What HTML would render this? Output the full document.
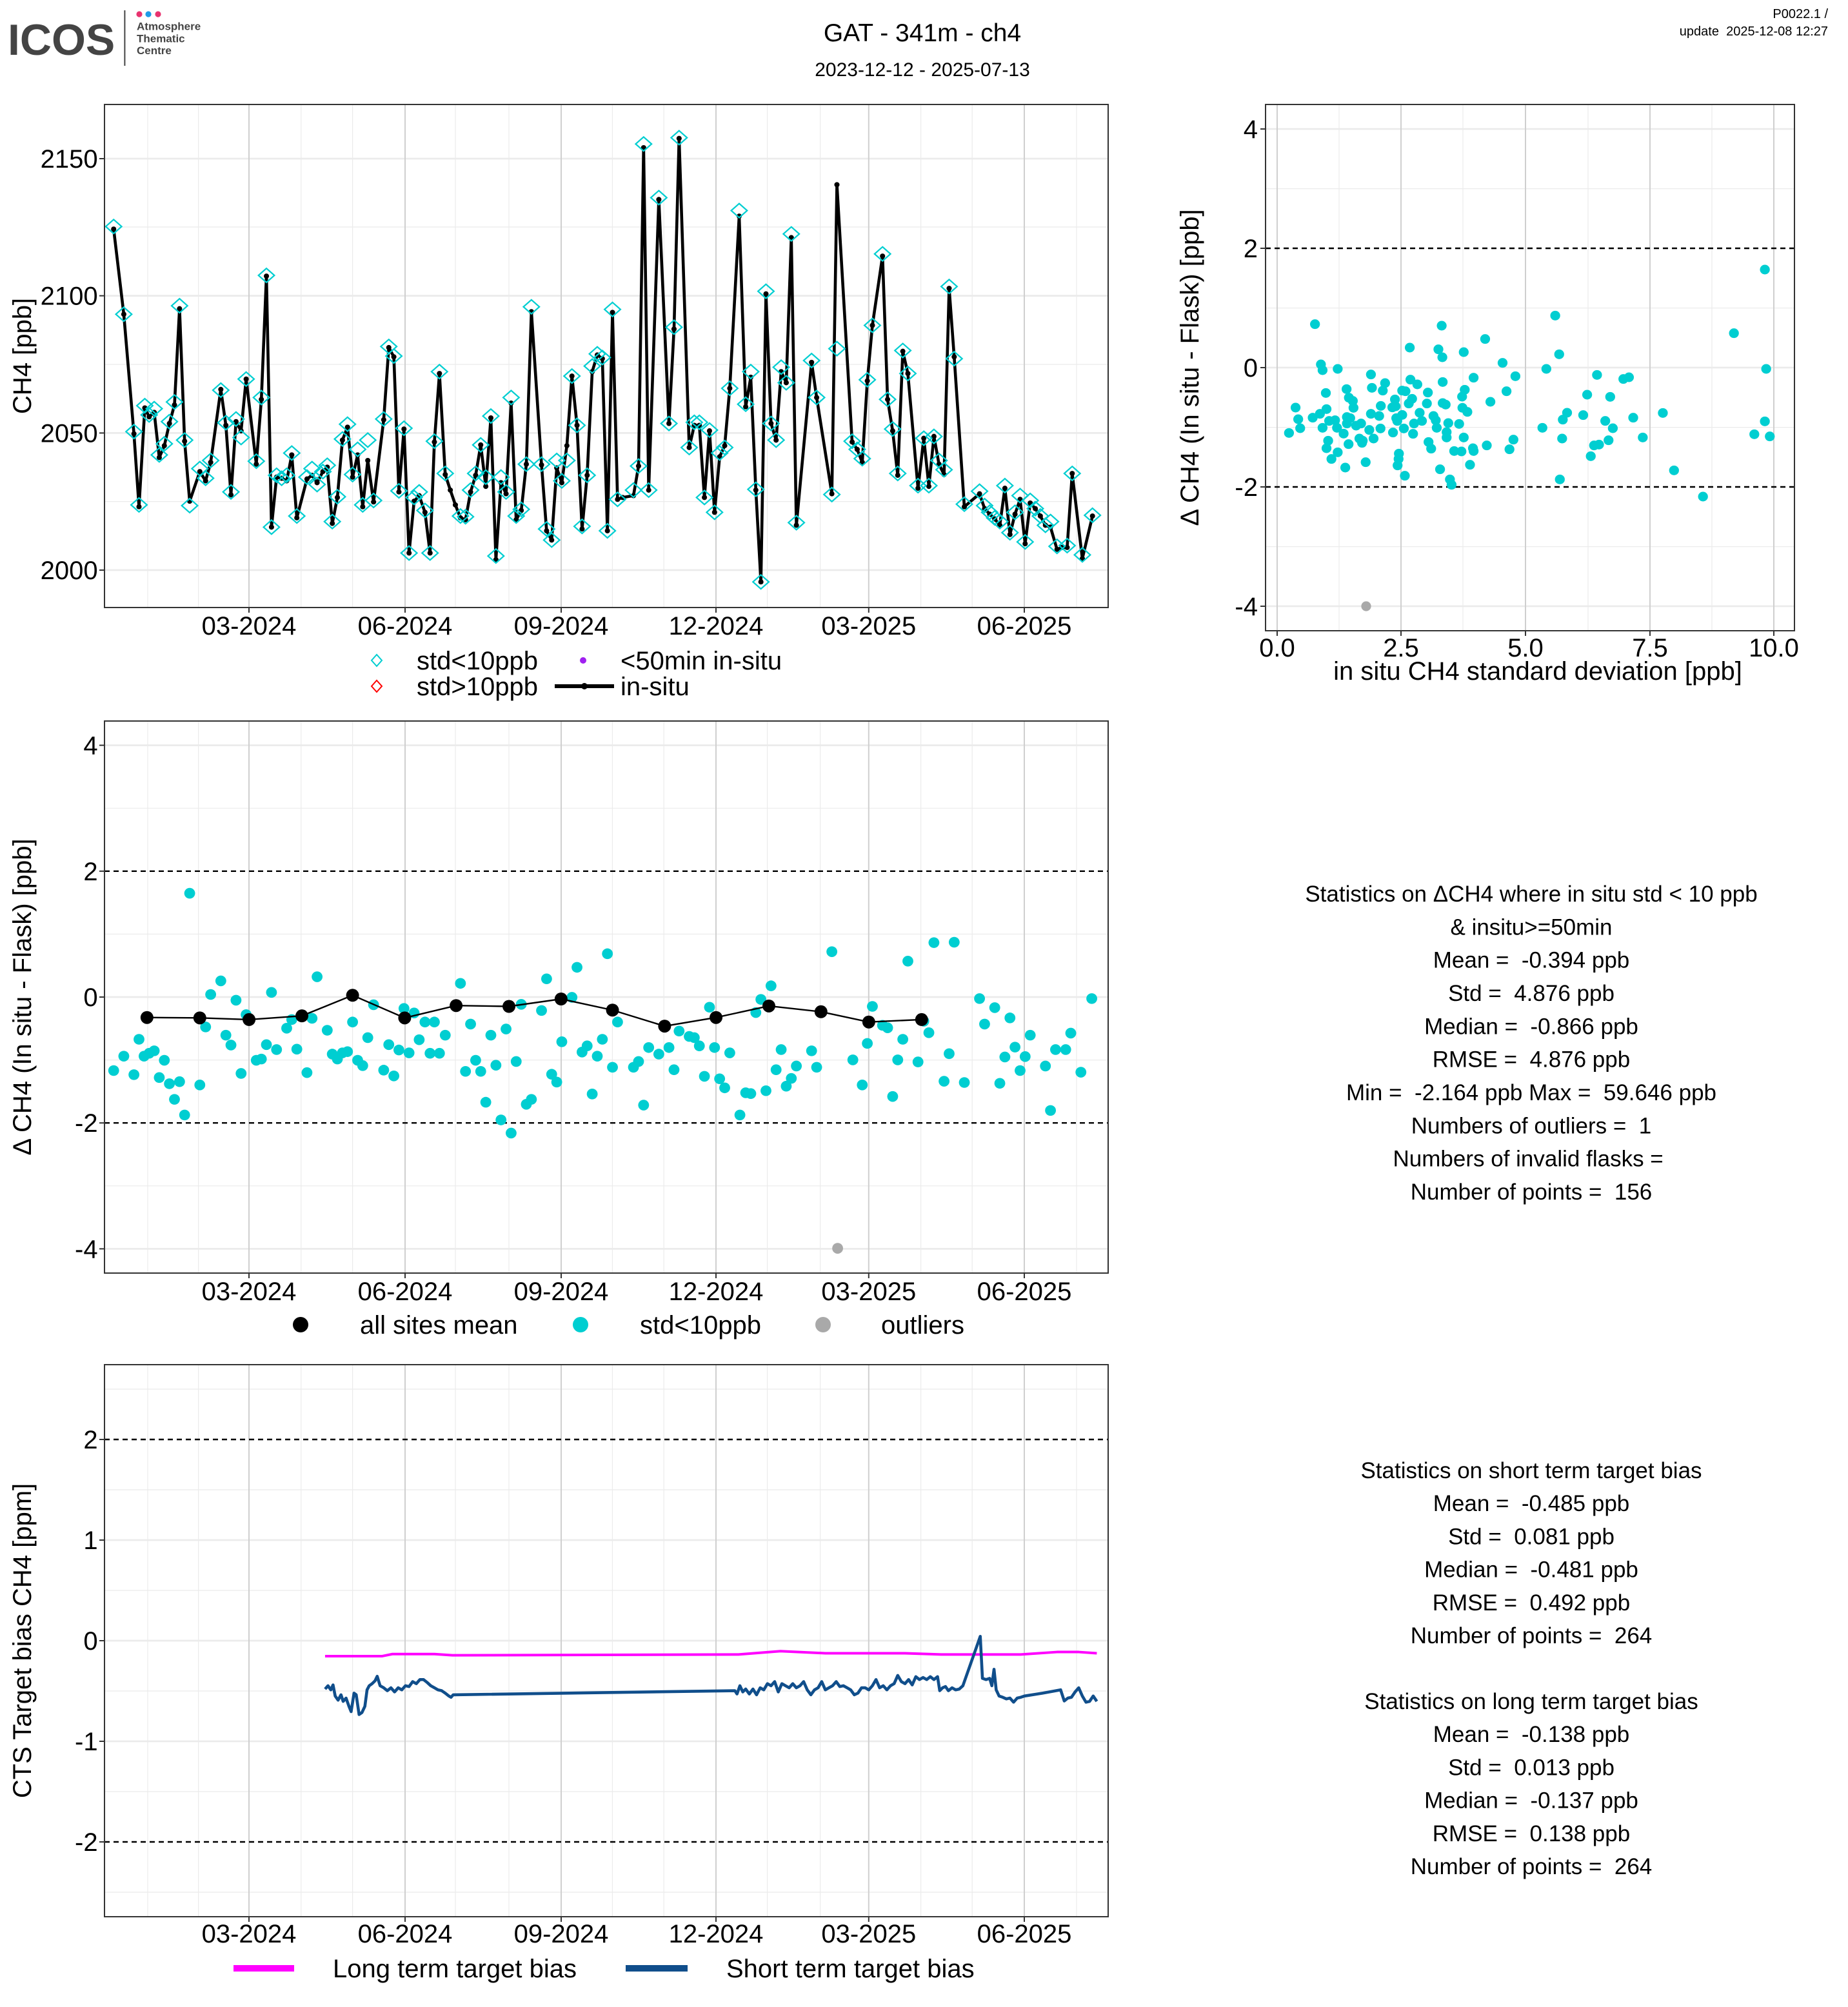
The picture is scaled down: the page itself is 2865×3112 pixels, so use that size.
<!DOCTYPE html>
<html><head><meta charset="utf-8"><style>
html,body{margin:0;padding:0;background:#fff}
svg{display:block}
text{font-family:"Liberation Sans",Arial,sans-serif;fill:#000;white-space:pre}
</style></head><body>
<svg xmlns="http://www.w3.org/2000/svg" width="2865" height="3112" viewBox="0 0 1432.5 1556" xml:space="preserve">
<defs>
<marker id="dia" markerUnits="userSpaceOnUse" markerWidth="60" markerHeight="60" refX="0" refY="0" overflow="visible"><path d="M0,-19L11,0L0,19L-11,0Z" fill="none" stroke="#00CED1" stroke-width="2.6"/></marker>
<marker id="dot1" markerUnits="userSpaceOnUse" markerWidth="20" markerHeight="20" refX="0" refY="0" overflow="visible"><ellipse cx="0" cy="0" rx="3.6" ry="7" fill="#000"/></marker>
<marker id="cy2" markerUnits="userSpaceOnUse" markerWidth="60" markerHeight="60" refX="0" refY="0" overflow="visible"><ellipse cx="0" cy="0" rx="15" ry="22.5" fill="#00CED1"/></marker>
<marker id="cy3" markerUnits="userSpaceOnUse" markerWidth="60" markerHeight="60" refX="0" refY="0" overflow="visible"><ellipse cx="0" cy="0" rx="7.5" ry="13" fill="#00CED1"/></marker>
<marker id="bk3" markerUnits="userSpaceOnUse" markerWidth="60" markerHeight="60" refX="0" refY="0" overflow="visible"><ellipse cx="0" cy="0" rx="8.9" ry="15.7" fill="#000"/></marker>
</defs>
<rect width="1432.5" height="1556" fill="#fff"/>

<!-- HEADER -->
<text x="6" y="42.5" font-size="34" font-weight="bold" style="fill:#444">ICOS</text>
<line x1="96.7" y1="8" x2="96.7" y2="51" stroke="#444" stroke-width="1"/>
<circle cx="108" cy="11" r="2.3" fill="#e8336f"/><circle cx="115" cy="11" r="2.3" fill="#1e9be8"/><circle cx="122.5" cy="11" r="2.3" fill="#e8336f"/>
<text x="106" y="23.3" font-size="8.5" font-weight="bold" style="fill:#444">Atmosphere</text>
<text x="106" y="32.8" font-size="8.5" font-weight="bold" style="fill:#444">Thematic</text>
<text x="106" y="42" font-size="8.5" font-weight="bold" style="fill:#444">Centre</text>
<text x="715" y="32" font-size="19.5" text-anchor="middle">GAT - 341m - ch4</text>
<text x="715" y="59" font-size="15" text-anchor="middle">2023-12-12 - 2025-07-13</text>
<text x="1417" y="14" font-size="10" text-anchor="end">P0022.1 /</text>
<text x="1417" y="27.5" font-size="10" text-anchor="end">update  2025-12-08 12:27</text>

<!-- PANEL 1 -->
<g stroke="#ebebeb" stroke-width="0.6">
<line x1="114.5" y1="81" x2="114.5" y2="471"/><line x1="153.8" y1="81" x2="153.8" y2="471"/><line x1="233.4" y1="81" x2="233.4" y2="471"/><line x1="273.3" y1="81" x2="273.3" y2="471"/><line x1="353" y1="81" x2="353" y2="471"/><line x1="394.5" y1="81" x2="394.5" y2="471"/><line x1="474.7" y1="81" x2="474.7" y2="471"/><line x1="514.6" y1="81" x2="514.6" y2="471"/><line x1="594.8" y1="81" x2="594.8" y2="471"/><line x1="635.8" y1="81" x2="635.8" y2="471"/><line x1="713.8" y1="81" x2="713.8" y2="471"/><line x1="753.6" y1="81" x2="753.6" y2="471"/><line x1="834.5" y1="81" x2="834.5" y2="471"/>
<line x1="81" y1="388.8" x2="859" y2="388.8"/><line x1="81" y1="282.5" x2="859" y2="282.5"/><line x1="81" y1="176" x2="859" y2="176"/>
</g>
<g stroke="#ebebeb" stroke-width="1.4">
<line x1="81" y1="442" x2="859" y2="442"/><line x1="81" y1="335.7" x2="859" y2="335.7"/><line x1="81" y1="229.3" x2="859" y2="229.3"/><line x1="81" y1="123" x2="859" y2="123"/>
</g>
<g stroke="#cfcfcf" stroke-width="1">
<line x1="193" y1="81" x2="193" y2="471"/><line x1="314" y1="81" x2="314" y2="471"/><line x1="435" y1="81" x2="435" y2="471"/><line x1="555" y1="81" x2="555" y2="471"/><line x1="673.4" y1="81" x2="673.4" y2="471"/><line x1="794" y1="81" x2="794" y2="471"/>
</g>
<g transform="translate(0,70) scale(0.5612,0.2870)">
<polyline fill="none" stroke="#000" stroke-width="4.6" vector-effect="non-scaling-stroke" stroke-linejoin="round" marker-start="url(#dot1)" marker-mid="url(#dot1)" marker-end="url(#dot1)" points="157,375 171,605 185,928 192,1125 200,858 206,882 213,870 220,992 227,960 234,900 241,850 248,590 255,948 262,1110 276,1030 284,1055 291,1005 305,808 312,905 319,1093 326,895 333,920 340,780 354,1010 361,835 368,502 375,1180 382,1045 389,1048 396,1055 403,985 410,1155 424,1050 431,1040 438,1060 446,1030 452,1018 459,1170 466,1100 473,945 480,910 487,1045 494,985 501,1125 508,1000 516,1112 530,890 537,695 544,720 551,1085 558,915 565,1250 572,1110 579,1095 587,1140 594,1250 600,950 607,765 615,1038 622,1080 629,1120 636,1155 643,1160 650,1085 657,1040 664,958 671,1070 678,885 685,1268 692,1060 699,1090 706,845 713,1160 720,1135 727,1010 734,598 748,1012 755,1190 762,1215 769,1020 776,1060 783,960 790,772 797,905 804,1185 811,1040 818,760 825,715 832,725 839,1190 846,600 853,1105 860,1100 875,1095 882,1015 889,155 896,1080 910,295 924,900 931,645 938,130 952,965 959,905 966,905 973,1100 980,920 987,1140 994,990 1001,960 1008,805 1021,340 1030,855 1037,775 1044,1080 1051,1328 1058,550 1065,900 1072,945 1079,760 1086,790 1093,398 1100,1175 1121,735 1128,830 1149,1090 1156,255 1177,950 1184,970 1191,1005 1198,785 1205,635 1219,448 1226,835 1233,920 1240,1040 1247,705 1254,765 1268,1075 1276,940 1283,1070 1290,935 1297,1010 1304,1038 1311,535 1318,720 1332,1125 1353,1090 1360,1130 1367,1145 1374,1158 1381,1175 1388,1075 1395,1200 1402,1145 1409,1105 1416,1225 1423,1115 1430,1130 1437,1150 1444,1175 1451,1180 1460,1240 1467,1235 1474,1235 1481,1035 1495,1265 1509,1150"/>
<polyline fill="none" stroke="none" marker-start="url(#dia)" marker-mid="url(#dia)" marker-end="url(#dia)" points="157,368 171,605 185,922 192,1120 200,852 206,877 213,860 220,985 227,955 234,895 241,842 248,582 255,945 262,1122 276,1022 284,1048 291,1000 305,810 312,898 319,1085 326,888 333,938 340,780 354,1002 361,830 368,500 375,1180 382,1040 389,1048 396,1040 403,980 410,1150 424,1045 431,1022 438,1065 446,1030 452,1013 459,1165 466,1098 473,942 480,902 487,1038 494,970 501,1120 508,945 516,1108 530,888 537,692 544,718 551,1082 558,913 565,1250 572,1100 579,1085 587,1135 594,1250 600,948 607,760 615,1035 636,1150 643,1152 650,1080 657,1035 664,958 671,1045 678,880 685,1258 692,1045 699,1085 706,830 713,1150 720,1132 727,1010 734,585 748,1010 755,1185 762,1215 769,1000 776,1055 783,1000 790,772 797,905 804,1178 811,1040 818,745 825,712 832,722 839,1190 846,592 853,1105 875,1080 882,1015 889,145 896,1080 910,290 924,900 931,640 938,128 952,965 959,897 966,897 973,1100 980,918 987,1140 994,980 1001,965 1008,805 1021,325 1030,848 1037,760 1044,1078 1051,1328 1058,543 1065,900 1072,945 1079,748 1086,790 1093,388 1100,1168 1121,730 1128,830 1149,1092 1156,698 1177,948 1184,970 1191,995 1198,782 1205,635 1219,442 1226,835 1233,915 1240,1035 1247,703 1254,765 1268,1068 1276,940 1283,1068 1290,935 1297,1000 1304,1025 1311,530 1318,725 1332,1118 1353,1083 1360,1122 1367,1140 1374,1155 1381,1165 1388,1068 1395,1195 1402,1140 1409,1095 1416,1220 1423,1108 1430,1130 1437,1150 1444,1175 1451,1165 1460,1232 1474,1230 1481,1035 1495,1255 1509,1148"/>
</g>
<rect x="81" y="81" width="778" height="390" fill="none" stroke="#333" stroke-width="1"/>
<g stroke="#333" stroke-width="1">
<line x1="77" y1="442" x2="81" y2="442"/><line x1="77" y1="335.7" x2="81" y2="335.7"/><line x1="77" y1="229.3" x2="81" y2="229.3"/><line x1="77" y1="123" x2="81" y2="123"/>
<line x1="193" y1="471" x2="193" y2="475"/><line x1="314" y1="471" x2="314" y2="475"/><line x1="435" y1="471" x2="435" y2="475"/><line x1="555" y1="471" x2="555" y2="475"/><line x1="673.4" y1="471" x2="673.4" y2="475"/><line x1="794" y1="471" x2="794" y2="475"/>
</g>
<g font-size="20" text-anchor="end">
<text x="75.8" y="449">2000</text><text x="75.8" y="342.7">2050</text><text x="75.8" y="236.3">2100</text><text x="75.8" y="130">2150</text>
</g>
<g font-size="20" text-anchor="middle">
<text x="193" y="492">03-2024</text><text x="314" y="492">06-2024</text><text x="435" y="492">09-2024</text><text x="555" y="492">12-2024</text><text x="673.4" y="492">03-2025</text><text x="794" y="492">06-2025</text>
</g>
<text transform="translate(24,276) rotate(-90)" font-size="20" text-anchor="middle">CH4 [ppb]</text>
<!-- legend 1 -->
<path d="M292,507.5L296,512L292,516.5L288,512Z" fill="none" stroke="#00CED1" stroke-width="1"/>
<text x="323" y="519" font-size="20">std&lt;10ppb</text>
<circle cx="452" cy="512" r="2.5" fill="#A020F0"/>
<text x="481" y="519" font-size="20">&lt;50min in-situ</text>
<path d="M292,527.5L296,532L292,536.5L288,532Z" fill="none" stroke="#FF0000" stroke-width="1"/>
<text x="323" y="539" font-size="20">std&gt;10ppb</text>
<line x1="430" y1="532" x2="476" y2="532" stroke="#000" stroke-width="3"/><circle cx="453" cy="532" r="2.5" fill="#000"/>
<text x="481" y="539" font-size="20">in-situ</text>

<!-- PANEL 2 -->
<g stroke="#ebebeb" stroke-width="0.6">
<line x1="1038" y1="81" x2="1038" y2="489"/><line x1="1134" y1="81" x2="1134" y2="489"/><line x1="1231" y1="81" x2="1231" y2="489"/><line x1="1327" y1="81" x2="1327" y2="489"/>
<line x1="981" y1="238.8" x2="1391" y2="238.8"/><line x1="981" y1="331.3" x2="1391" y2="331.3"/><line x1="981" y1="146.3" x2="1391" y2="146.3"/><line x1="981" y1="423.8" x2="1391" y2="423.8"/>
</g>
<g stroke="#ebebeb" stroke-width="1.4">
<line x1="981" y1="285" x2="1391" y2="285"/><line x1="981" y1="100" x2="1391" y2="100"/><line x1="981" y1="470" x2="1391" y2="470"/>
</g>
<g stroke="#cfcfcf" stroke-width="1">
<line x1="990" y1="81" x2="990" y2="489"/><line x1="1086" y1="81" x2="1086" y2="489"/><line x1="1182.5" y1="81" x2="1182.5" y2="489"/><line x1="1279" y1="81" x2="1279" y2="489"/><line x1="1375" y1="81" x2="1375" y2="489"/>
</g>
<g stroke="#000" stroke-width="1.2" stroke-dasharray="4,3"><line x1="981" y1="192.5" x2="1391" y2="192.5"/><line x1="981" y1="377.5" x2="1391" y2="377.5"/></g>
<g transform="translate(990,230) scale(0.2551,0.16667)">
<polyline fill="none" stroke="none" marker-start="url(#cy2)" marker-mid="url(#cy2)" marker-end="url(#cy2)" points="115,128 500,135 845,88 1388,170 403,237 490,245 502,282 567,258 632,197 857,268 133,315 138,342 184,336 685,308 818,336 1486,336 285,362 405,386 426,408 503,397 597,377 724,370 972,364 1052,383 1069,375 148,448 211,430 288,424 328,402 321,437 380,437 390,440 458,446 570,433 562,465 697,440 942,456 1012,466 218,470 230,485 232,517 358,478 350,515 360,510 410,475 400,497 455,497 503,495 512,502 648,489 563,517 578,536 56,516 150,523 130,545 108,563 64,570 70,612 36,634 285,545 310,555 315,508 380,550 362,565 365,578 433,540 440,578 416,590 475,555 482,575 485,610 520,588 553,592 881,540 868,572 930,551 997,578 1020,612 1082,563 1172,541 1482,580 806,610 158,578 176,575 212,560 222,565 212,590 240,600 255,590 280,620 138,610 182,610 202,637 314,613 352,632 385,613 413,638 515,630 515,655 567,655 718,665 866,660 1007,668 978,688 963,692 1111,655 1450,640 1497,650 155,670 150,705 217,686 260,670 258,680 293,660 250,660 460,676 468,707 538,718 560,720 595,705 597,718 637,692 706,710 184,724 165,755 207,795 269,770 370,730 369,755 366,785 388,833 495,803 525,850 530,875 586,782 953,742 859,850 1206,808 1294,930 1482,-126"/>
</g>
<circle cx="1059" cy="470" r="3.8" fill="#A9A9A9"/>
<rect x="981" y="81" width="410" height="408" fill="none" stroke="#333" stroke-width="1"/>
<g stroke="#333" stroke-width="1">
<line x1="977" y1="100" x2="981" y2="100"/><line x1="977" y1="192.5" x2="981" y2="192.5"/><line x1="977" y1="285" x2="981" y2="285"/><line x1="977" y1="377.5" x2="981" y2="377.5"/><line x1="977" y1="470" x2="981" y2="470"/>
<line x1="990" y1="489" x2="990" y2="493"/><line x1="1086" y1="489" x2="1086" y2="493"/><line x1="1182.5" y1="489" x2="1182.5" y2="493"/><line x1="1279" y1="489" x2="1279" y2="493"/><line x1="1375" y1="489" x2="1375" y2="493"/>
</g>
<g font-size="20" text-anchor="end">
<text x="975" y="107">4</text><text x="975" y="199.5">2</text><text x="975" y="292">0</text><text x="975" y="384.5">-2</text><text x="975" y="477">-4</text>
</g>
<g font-size="20" text-anchor="middle">
<text x="990" y="509">0.0</text><text x="1086" y="509">2.5</text><text x="1182.5" y="509">5.0</text><text x="1279" y="509">7.5</text><text x="1375" y="509">10.0</text>
</g>
<text x="1192" y="527" font-size="20" text-anchor="middle">in situ CH4 standard deviation [ppb]</text>
<text transform="translate(929,285) rotate(-90)" font-size="20" text-anchor="middle">Δ CH4 (In situ - Flask) [ppb]</text>

<!-- PANEL 3 -->
<g stroke="#ebebeb" stroke-width="0.6">
<line x1="114.5" y1="559" x2="114.5" y2="987"/><line x1="153.8" y1="559" x2="153.8" y2="987"/><line x1="233.4" y1="559" x2="233.4" y2="987"/><line x1="273.3" y1="559" x2="273.3" y2="987"/><line x1="353" y1="559" x2="353" y2="987"/><line x1="394.5" y1="559" x2="394.5" y2="987"/><line x1="474.7" y1="559" x2="474.7" y2="987"/><line x1="514.6" y1="559" x2="514.6" y2="987"/><line x1="594.8" y1="559" x2="594.8" y2="987"/><line x1="635.8" y1="559" x2="635.8" y2="987"/><line x1="713.8" y1="559" x2="713.8" y2="987"/><line x1="753.6" y1="559" x2="753.6" y2="987"/><line x1="834.5" y1="559" x2="834.5" y2="987"/>
<line x1="81" y1="626.6" x2="859" y2="626.6"/><line x1="81" y1="724.2" x2="859" y2="724.2"/><line x1="81" y1="821.8" x2="859" y2="821.8"/><line x1="81" y1="919.4" x2="859" y2="919.4"/>
</g>
<g stroke="#ebebeb" stroke-width="1.4">
<line x1="81" y1="577.8" x2="859" y2="577.8"/><line x1="81" y1="773" x2="859" y2="773"/><line x1="81" y1="968.2" x2="859" y2="968.2"/>
</g>
<g stroke="#cfcfcf" stroke-width="1">
<line x1="193" y1="559" x2="193" y2="987"/><line x1="314" y1="559" x2="314" y2="987"/><line x1="435" y1="559" x2="435" y2="987"/><line x1="555" y1="559" x2="555" y2="987"/><line x1="673.4" y1="559" x2="673.4" y2="987"/><line x1="794" y1="559" x2="794" y2="987"/>
</g>
<g stroke="#000" stroke-width="1.2" stroke-dasharray="4,3"><line x1="81" y1="675.4" x2="859" y2="675.4"/><line x1="81" y1="870.6" x2="859" y2="870.6"/></g>
<g transform="translate(0,550) scale(0.5612,0.3189)">
<polyline fill="none" stroke="none" marker-start="url(#cy3)" marker-mid="url(#cy3)" marker-end="url(#cy3)" points="157,878 171,843 185,888 192,802 199,843 206,836 213,830 220,895 227,853 234,910 241,948 248,905 255,986 262,447 276,913 284,772 291,693 305,660 312,792 319,816 326,707 333,885 340,742 354,853 361,850 368,815 375,688 382,827 396,775 403,754 410,826 424,883 431,751 438,650 452,780 459,838 466,850 473,835 480,832 487,760 494,853 501,866 508,798 516,718 530,877 537,815 544,891 551,828 558,727 565,835 572,738 579,803 587,760 594,836 600,760 607,836 615,792 636,666 643,880 650,765 657,853 664,880 671,955 678,792 685,865 692,998 699,777 706,1030 713,856 720,717 727,960 734,948 748,732 755,655 762,887 769,906 776,808 790,700 797,627 804,833 811,818 818,935 825,843 832,802 839,594 846,870 853,760 875,870 882,856 889,962 896,822 910,838 924,822 931,876 938,782 952,795 959,798 966,818 973,892 980,724 987,822 994,898 1001,920 1008,835 1022,986 1030,932 1037,934 1044,737 1051,705 1058,927 1065,672 1072,876 1079,827 1086,916 1093,897 1100,867 1121,830 1128,870 1149,589 1178,852 1191,913 1198,812 1205,722 1219,768 1226,774 1233,941 1240,852 1247,802 1254,612 1268,857 1276,758 1283,786 1290,567 1304,904 1311,837 1318,566 1332,907 1353,703 1360,765 1374,725 1381,909 1388,845 1395,750 1402,821 1409,878 1416,844 1423,792 1444,867 1451,975 1458,827 1472,827 1479,787 1493,882 1508,703"/>
<polyline fill="none" stroke="#000" stroke-width="2.4" vector-effect="non-scaling-stroke" marker-start="url(#bk3)" marker-mid="url(#bk3)" marker-end="url(#bk3)" points="203,749 276,750 344,754 417,745 487,695 559,750 630,720 703,722 775,704 846,731 918,770 989,749 1062,721 1134,735 1200,760 1273,754"/>
</g>
<circle cx="649.3" cy="967.8" r="4.2" fill="#A9A9A9"/>
<rect x="81" y="559" width="778" height="428" fill="none" stroke="#333" stroke-width="1"/>
<g stroke="#333" stroke-width="1">
<line x1="77" y1="577.8" x2="81" y2="577.8"/><line x1="77" y1="675.4" x2="81" y2="675.4"/><line x1="77" y1="773" x2="81" y2="773"/><line x1="77" y1="870.6" x2="81" y2="870.6"/><line x1="77" y1="968.2" x2="81" y2="968.2"/>
<line x1="193" y1="987" x2="193" y2="991"/><line x1="314" y1="987" x2="314" y2="991"/><line x1="435" y1="987" x2="435" y2="991"/><line x1="555" y1="987" x2="555" y2="991"/><line x1="673.4" y1="987" x2="673.4" y2="991"/><line x1="794" y1="987" x2="794" y2="991"/>
</g>
<g font-size="20" text-anchor="end">
<text x="75.8" y="584.8">4</text><text x="75.8" y="682.4">2</text><text x="75.8" y="780">0</text><text x="75.8" y="877.6">-2</text><text x="75.8" y="975.2">-4</text>
</g>
<g font-size="20" text-anchor="middle">
<text x="193" y="1008">03-2024</text><text x="314" y="1008">06-2024</text><text x="435" y="1008">09-2024</text><text x="555" y="1008">12-2024</text><text x="673.4" y="1008">03-2025</text><text x="794" y="1008">06-2025</text>
</g>
<text transform="translate(24,773) rotate(-90)" font-size="20" text-anchor="middle">Δ CH4 (In situ - Flask) [ppb]</text>
<circle cx="233" cy="1027" r="6" fill="#000"/><text x="279" y="1034" font-size="20">all sites mean</text>
<circle cx="450" cy="1027" r="6" fill="#00CED1"/><text x="496" y="1034" font-size="20">std&lt;10ppb</text>
<circle cx="638" cy="1027" r="6" fill="#A9A9A9"/><text x="683" y="1034" font-size="20">outliers</text>

<!-- STATS 1 -->
<g font-size="17.5" text-anchor="middle">
<text x="1187" y="699">Statistics on ΔCH4 where in situ std &lt; 10 ppb</text>
<text x="1187" y="724.7">&amp; insitu&gt;=50min</text>
<text x="1187" y="750.3">Mean =  -0.394 ppb</text>
<text x="1187" y="776">Std =  4.876 ppb</text>
<text x="1187" y="801.7">Median =  -0.866 ppb</text>
<text x="1187" y="827.3">RMSE =  4.876 ppb</text>
<text x="1187" y="853">Min =  -2.164 ppb Max =  59.646 ppb</text>
<text x="1187" y="878.7">Numbers of outliers =  1</text>
<text x="1187" y="904.3">Numbers of invalid flasks = </text>
<text x="1187" y="930">Number of points =  156</text>
</g>

<!-- PANEL 4 -->
<g stroke="#ebebeb" stroke-width="0.6">
<line x1="114.5" y1="1058" x2="114.5" y2="1486"/><line x1="153.8" y1="1058" x2="153.8" y2="1486"/><line x1="233.4" y1="1058" x2="233.4" y2="1486"/><line x1="273.3" y1="1058" x2="273.3" y2="1486"/><line x1="353" y1="1058" x2="353" y2="1486"/><line x1="394.5" y1="1058" x2="394.5" y2="1486"/><line x1="474.7" y1="1058" x2="474.7" y2="1486"/><line x1="514.6" y1="1058" x2="514.6" y2="1486"/><line x1="594.8" y1="1058" x2="594.8" y2="1486"/><line x1="635.8" y1="1058" x2="635.8" y2="1486"/><line x1="713.8" y1="1058" x2="713.8" y2="1486"/><line x1="753.6" y1="1058" x2="753.6" y2="1486"/><line x1="834.5" y1="1058" x2="834.5" y2="1486"/>
<line x1="81" y1="1077" x2="859" y2="1077"/><line x1="81" y1="1155" x2="859" y2="1155"/><line x1="81" y1="1233" x2="859" y2="1233"/><line x1="81" y1="1311" x2="859" y2="1311"/><line x1="81" y1="1389" x2="859" y2="1389"/><line x1="81" y1="1467" x2="859" y2="1467"/>
</g>
<g stroke="#ebebeb" stroke-width="1.4">
<line x1="81" y1="1194" x2="859" y2="1194"/><line x1="81" y1="1272" x2="859" y2="1272"/><line x1="81" y1="1350" x2="859" y2="1350"/>
</g>
<g stroke="#cfcfcf" stroke-width="1">
<line x1="193" y1="1058" x2="193" y2="1486"/><line x1="314" y1="1058" x2="314" y2="1486"/><line x1="435" y1="1058" x2="435" y2="1486"/><line x1="555" y1="1058" x2="555" y2="1486"/><line x1="673.4" y1="1058" x2="673.4" y2="1486"/><line x1="794" y1="1058" x2="794" y2="1486"/>
</g>
<g stroke="#000" stroke-width="1.2" stroke-dasharray="4,3"><line x1="81" y1="1116" x2="859" y2="1116"/><line x1="81" y1="1428" x2="859" y2="1428"/></g>
<g transform="translate(0,1055) scale(0.5612,0.3189)" fill="none" stroke-linejoin="round">
<polyline stroke="#FF00FF" stroke-width="4" vector-effect="non-scaling-stroke" points="449,718 528,718 542,713 600,713 625,716 1020,714 1078,706 1140,711 1250,711 1300,714 1410,714 1460,708 1490,708 1515,711"/>
<polyline stroke="#104E8B" stroke-width="4.6" vector-effect="non-scaling-stroke" points="449,798 453,790 457,800 460,788 463,815 467,825 471,812 474,828 478,820 482,840 485,853 489,808 492,812 496,860 500,855 504,840 507,800 510,790 514,785 518,778 521,767 525,790 530,795 535,802 540,795 545,805 550,795 555,800 560,790 565,792 570,780 575,785 580,775 585,775 590,782 595,790 600,795 605,800 610,802 615,808 620,815 623,818 626,812 1015,802 1018,810 1022,790 1026,805 1030,798 1035,810 1040,798 1045,812 1050,795 1055,800 1060,785 1065,790 1070,780 1075,805 1080,785 1085,790 1090,795 1095,785 1100,795 1105,790 1110,780 1115,800 1120,812 1125,800 1130,795 1135,780 1140,800 1145,795 1150,790 1155,780 1160,792 1165,790 1170,795 1175,800 1180,812 1185,808 1190,795 1195,795 1200,800 1205,790 1210,775 1215,795 1220,790 1225,800 1230,790 1235,785 1240,765 1245,780 1250,785 1255,775 1260,788 1265,768 1270,775 1275,770 1280,775 1285,768 1290,775 1295,768 1298,802 1302,795 1306,792 1310,802 1315,795 1320,800 1325,798 1330,790 1340,740 1350,690 1354,670 1357,772 1362,775 1367,772 1370,790 1373,750 1376,800 1380,815 1385,818 1390,822 1395,820 1400,830 1405,820 1410,818 1415,815 1440,808 1465,800 1470,827 1475,820 1480,818 1485,805 1490,795 1495,815 1500,830 1505,828 1510,815 1515,828"/>
</g>
<rect x="81" y="1058" width="778" height="428" fill="none" stroke="#333" stroke-width="1"/>
<g stroke="#333" stroke-width="1">
<line x1="77" y1="1116" x2="81" y2="1116"/><line x1="77" y1="1194" x2="81" y2="1194"/><line x1="77" y1="1272" x2="81" y2="1272"/><line x1="77" y1="1350" x2="81" y2="1350"/><line x1="77" y1="1428" x2="81" y2="1428"/>
<line x1="193" y1="1486" x2="193" y2="1490"/><line x1="314" y1="1486" x2="314" y2="1490"/><line x1="435" y1="1486" x2="435" y2="1490"/><line x1="555" y1="1486" x2="555" y2="1490"/><line x1="673.4" y1="1486" x2="673.4" y2="1490"/><line x1="794" y1="1486" x2="794" y2="1490"/>
</g>
<g font-size="20" text-anchor="end">
<text x="75.8" y="1123">2</text><text x="75.8" y="1201">1</text><text x="75.8" y="1279">0</text><text x="75.8" y="1357">-1</text><text x="75.8" y="1435">-2</text>
</g>
<g font-size="20" text-anchor="middle">
<text x="193" y="1506">03-2024</text><text x="314" y="1506">06-2024</text><text x="435" y="1506">09-2024</text><text x="555" y="1506">12-2024</text><text x="673.4" y="1506">03-2025</text><text x="794" y="1506">06-2025</text>
</g>
<text transform="translate(24,1272) rotate(-90)" font-size="20" text-anchor="middle">CTS Target bias CH4 [ppm]</text>
<rect x="181" y="1523.5" width="47" height="5" fill="#FF00FF"/><text x="258" y="1533" font-size="20">Long term target bias</text>
<rect x="485" y="1523.5" width="48" height="5" fill="#104E8B"/><text x="563" y="1533" font-size="20">Short term target bias</text>

<!-- STATS 2 -->
<g font-size="17.5" text-anchor="middle">
<text x="1187" y="1146">Statistics on short term target bias</text>
<text x="1187" y="1171.6">Mean =  -0.485 ppb</text>
<text x="1187" y="1197.2">Std =  0.081 ppb</text>
<text x="1187" y="1222.8">Median =  -0.481 ppb</text>
<text x="1187" y="1248.4">RMSE =  0.492 ppb</text>
<text x="1187" y="1274">Number of points =  264</text>
<text x="1187" y="1325">Statistics on long term target bias</text>
<text x="1187" y="1350.6">Mean =  -0.138 ppb</text>
<text x="1187" y="1376.2">Std =  0.013 ppb</text>
<text x="1187" y="1401.8">Median =  -0.137 ppb</text>
<text x="1187" y="1427.4">RMSE =  0.138 ppb</text>
<text x="1187" y="1453">Number of points =  264</text>
</g>
</svg>
</body></html>
